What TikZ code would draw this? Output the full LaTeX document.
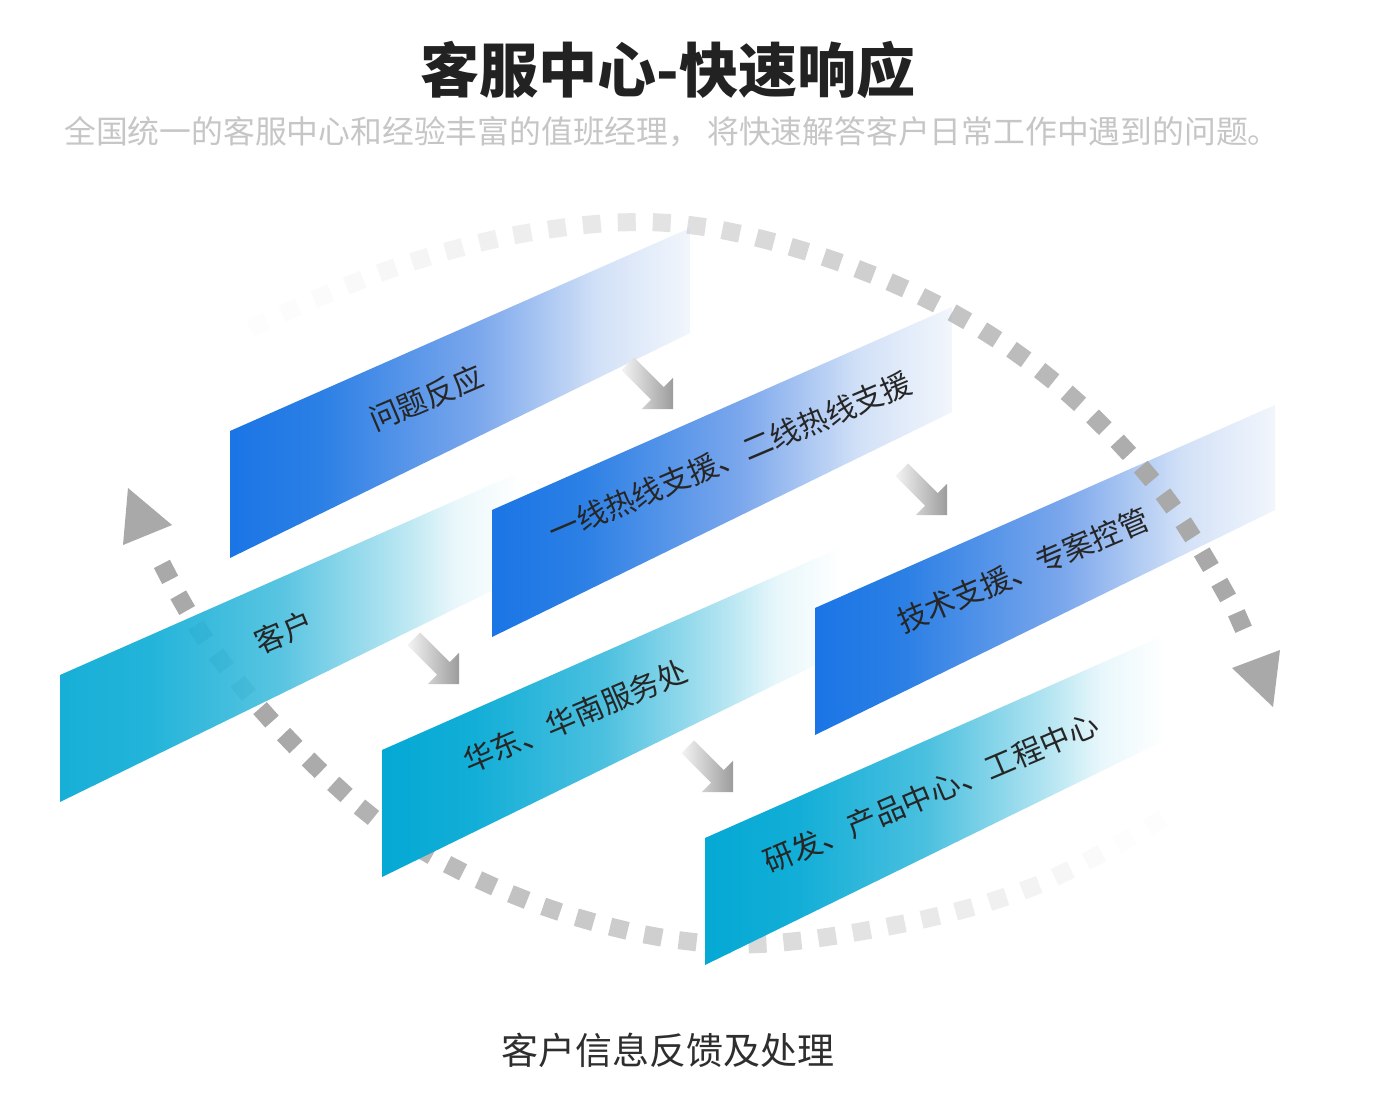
\documentclass[tikz,border=0pt]{standalone}
\usepackage{fontspec}
\newfontfamily\cjk{Noto Sans CJK SC}
\usetikzlibrary{decorations.markings}
\definecolor{titlecol}{HTML}{222222}
\definecolor{subcol}{HTML}{C6C6C6}
\definecolor{capcol}{HTML}{2E2E2E}
\definecolor{lblcol}{HTML}{262626}
\definecolor{dotgray}{HTML}{A9A9A9}
\definecolor{arrlight}{HTML}{F4F4F4}
\definecolor{arrdark}{HTML}{9C9C9C}
\definecolor{bA}{HTML}{1A75E5}
\definecolor{bB}{HTML}{2C80E5}
\definecolor{bC}{HTML}{7BA7EC}
\definecolor{bD}{HTML}{D2E1F7}
\definecolor{bE}{HTML}{F2F6FC}
\definecolor{tA}{HTML}{04A9D4}
\definecolor{tB}{HTML}{12AED7}
\definecolor{tC}{HTML}{4BC0DF}
\definecolor{tD}{HTML}{B2E4F1}
\definecolor{tE}{HTML}{E8F7FB}
\pgfdeclarehorizontalshading{blueband}{100bp}{color(0bp)=(bA); color(25bp)=(bA); color(35bp)=(bB); color(52bp)=(bC); color(65bp)=(bD); color(75bp)=(bE); color(100bp)=(bE)}
\pgfdeclarehorizontalshading{tealband}{100bp}{color(0bp)=(tA); color(25bp)=(tA); color(35bp)=(tB); color(49bp)=(tC); color(62bp)=(tD); color(68bp)=(tE); color(75bp)=(white); color(100bp)=(white)}
\newcommand\mkband[4]{\shade[shading=#3, opacity=#4] (#1,#2) -- ++(0,127) -- ++(460,-225) -- ++(0,-105) -- cycle;}
\newcommand\garrow[2]{\begin{scope}[shift={(#1,#2)}, rotate=-45]
  \shade[left color=arrlight, right color=arrdark] (0,0) -- (-22,-22) -- (-22,-9) -- (-64,-9) -- (-64,9) -- (-22,9) -- (-22,22) -- cycle;
\end{scope}}
\newcommand\sqdot[1]{%
  \pgfmathsetmacro\dotfrac{\pgfkeysvalueof{/pgf/decoration/mark info/sequence number}/34}%
  \pgfmathsetmacro\dotop{max(0.02,min(1,#1))}%
  \fill[dotgray, opacity=\dotop] (-4.5pt,-4.5pt) rectangle (4.5pt,4.5pt);}
\tikzset{
  updots/.style={decoration={markings, mark=between positions 0.005 and 0.995 step 17.5pt with {\sqdot{1.25*\dotfrac*\dotfrac^0.4}}}, decorate},
  lowdots/.style={decoration={markings, mark=between positions 0.005 and 0.995 step 17.5pt with {\sqdot{1.3*\dotfrac-0.06}}}, decorate},
  lbl/.style={font=\cjk\fontsize{15}{18}\selectfont, text=lblcol, rotate=23, inner sep=0pt}
}
\begin{document}
\begin{tikzpicture}[x=0.5pt,y=-0.5pt]
\useasboundingbox (0,0) rectangle (1390,1092);
\fill[white] (0,0) rectangle (1390,1092);
% title texts
\node[font=\cjk\bfseries\fontsize{29.5}{35}\selectfont, text=titlecol, inner sep=0pt] (title) at (668,70) {客服中心-快速响应};
\node[font=\cjk\fontsize{15.9}{18}\selectfont, text=subcol, inner sep=0pt] (sub) at (672,132) {全国统一的客服中心和经验丰富的值班经理， 将快速解答客户日常工作中遇到的问题。};
\node[font=\cjk\fontsize{18.5}{21}\selectfont, text=capcol, inner sep=0pt] (cap) at (668,1050) {客户信息反馈及处理};
% lower dotted arc (behind teal bands)
\path[lowdots] plot[smooth, tension=0.6] coordinates {(1160,820) (1030,888) (880,928) (720,944) (560,912) (410,843) (302,753) (208,643) (155,550)};
\fill[dotgray] (128,488) -- (172,525) -- (123,545) -- cycle;
% bands
\mkband{230}{431}{blueband}{1}
\mkband{60}{675}{tealband}{0.92}
\mkband{492}{510}{blueband}{1}
\mkband{382}{750}{tealband}{1}
\mkband{815}{608}{blueband}{1}
\mkband{705}{838}{tealband}{1}
% upper dotted arc
\path[updots] plot[smooth, tension=0.6] coordinates {(253,327) (388,270) (527,233) (668,223) (808,252) (942,307) (1058,385) (1160,490) (1232,605) (1250,652)};
\fill[dotgray] (1232,668) -- (1280,650) -- (1273,707) -- cycle;
% small arrows
\garrow{673}{409}
\garrow{947}{515}
\garrow{459}{684}
\garrow{733}{792}
% labels
\node[lbl] (l1) at (426,398) {问题反应};
\node[lbl] (l2) at (284,632) {客户};
\node[lbl] (l3) at (730,457) {一线热线支援、二线热线支援};
\node[lbl] (l4) at (575,716) {华东、华南服务处};
\node[lbl] (l5) at (1023,570) {技术支援、专案控管};
\node[lbl] (l6) at (931,793) {研发、产品中心、工程中心};
\end{tikzpicture}
\end{document}
